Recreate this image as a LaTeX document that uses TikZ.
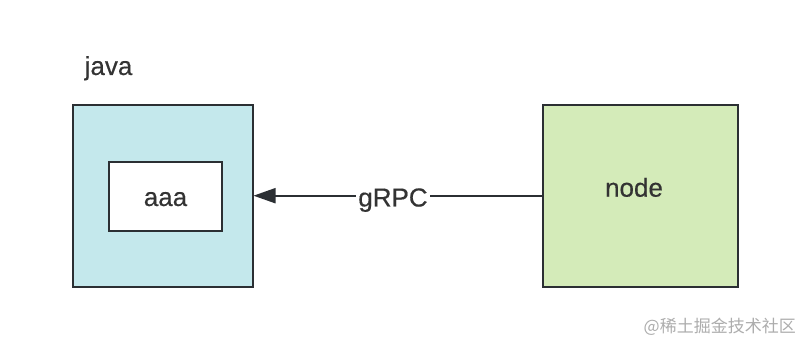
\documentclass[tikz,border=0pt]{standalone}
\usepackage{fontspec}
\setmainfont{Liberation Sans}
\newfontfamily\labelfont{Liberation Sans}[FakeBold=0.4]
\newfontfamily\cjkwm{Noto Sans CJK SC}
\usetikzlibrary{arrows.meta}
\definecolor{cyanfill}{HTML}{C4E8EC}
\definecolor{greenfill}{HTML}{D4EBB9}
\definecolor{edge}{HTML}{2B2F33}
\definecolor{txt}{HTML}{333333}
\tikzset{
  box/.style={draw=edge, line width=2pt, inner sep=0pt, minimum width=#1},
  lbl/.style={text=txt, font=\labelfont\fontsize{26}{30}\selectfont, inner sep=0pt, anchor=base},
}
\begin{document}
\begin{tikzpicture}[x=1pt,y=-1pt]
\useasboundingbox (0,0) rectangle (802,344);
\fill[white] (0,0) rectangle (802,344);
\node[box=180pt, minimum height=181pt, fill=cyanfill] (java) at (162.5,196) {};
\node[box=113pt, minimum height=69pt, fill=white] (aaa) at (165.8,196.2) {};
\node[lbl] (aaalbl) at (165.5,206) {aaa};
\node[lbl, anchor=base west] (javalbl) at (84.5,75) {java};
\node[box=195pt, minimum height=181pt, fill=greenfill] (node) at (640.5,196) {};
\node[lbl] (nodelbl) at (634,196.7) {node};
\draw[edge, line width=2pt, -{Triangle[length=22pt,width=15pt]}] (node.west |- 0,195.7) -- (java.east |- 0,195.7);
\node[lbl, fill=white, inner xsep=2pt, inner ysep=3pt] (grpc) at (393,206.5) {gRPC};
\node[text=black!32, font=\cjkwm\fontsize{17}{20}\selectfont, anchor=east, inner sep=0pt] (wm) at (796,327) {@稀土掘金技术社区};
\end{tikzpicture}
\end{document}
